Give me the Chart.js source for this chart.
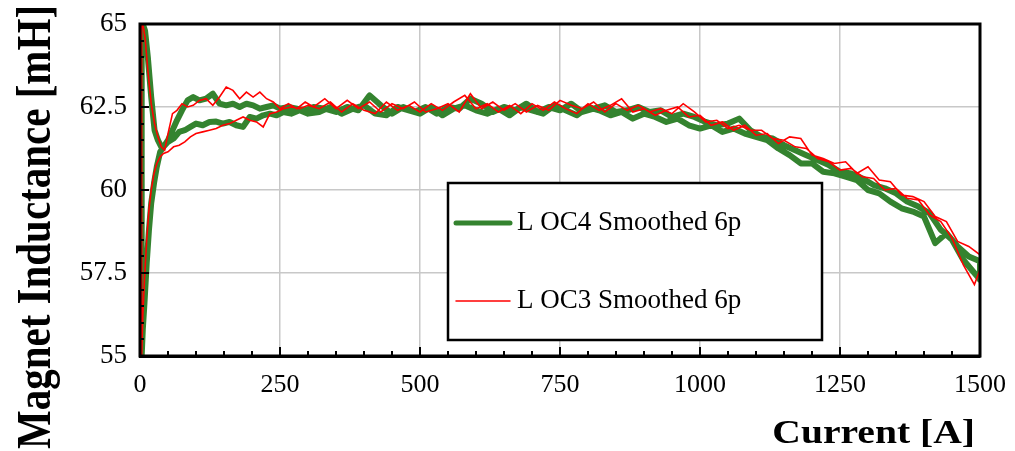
<!DOCTYPE html>
<html>
<head>
<meta charset="utf-8">
<script src="https://cdn.jsdelivr.net/npm/chart.js@4"></script>
<style>
  html, body { margin: 0; padding: 0; background: #fff; }
  canvas { display: block; }
</style>
</head>
<body>
<canvas id="lChart" width="1015" height="451"></canvas>
<script>
/* ─────────────────────────────────────────────
   Data
───────────────────────────────────────────── */
const xTicks = [0, 250, 500, 750, 1000, 1250, 1500];
const yTicks = [55, 57.5, 60, 62.5, 65];

// current samples, rising sweep then falling sweep
const currentUp = [2, 3, 5, 8, 12, 16, 20, 25, 30, 36, 42, 50, 60, 70, 80, 90, 100,
  112, 124, 136, 148, 160, 172, 184, 196, 208, 220, 232, 244, 256, 270, 285, 300,
  320, 340, 360, 380, 400, 420, 440, 460, 480, 500, 520, 540, 560, 580, 600, 620,
  640, 660, 680, 700, 720, 740, 760, 780, 800, 820, 840, 860, 880, 900, 920, 940,
  960, 980, 1000, 1020, 1040, 1060, 1080, 1100, 1120, 1140, 1160, 1180, 1200, 1220,
  1240, 1260, 1280, 1300, 1320, 1340, 1360, 1380, 1400, 1420, 1440, 1460, 1480, 1500];

const currentDown = [1500, 1490, 1470, 1450, 1430, 1410, 1390, 1370, 1350, 1330, 1310,
  1290, 1270, 1250, 1230, 1210, 1190, 1170, 1150, 1130, 1110, 1090, 1070, 1050, 1030,
  1010, 990, 970, 950, 930, 910, 890, 870, 850, 830, 810, 790, 770, 750, 730, 710,
  690, 670, 650, 630, 610, 590, 570, 550, 530, 510, 490, 470, 450, 430, 410, 390,
  370, 350, 330, 310, 295, 280, 265, 250, 238, 226, 214, 202, 190, 178, 166, 154,
  142, 130, 118, 106, 95, 85, 75, 66, 58, 50, 44, 38, 32, 26, 20, 14, 9, 5, 3];

// L OC4 Smoothed 6p [mH]
const oc4Up = [65, 55, 55.8, 56.6, 57.8, 58.8, 59.6, 60.2, 60.7, 61.15, 61.3, 61.45, 61.55,
  61.75, 61.8, 61.9, 62.0, 61.95, 62.05, 62.06, 62.0, 62.05, 61.95, 61.9, 62.2, 62.15,
  62.25, 62.3, 62.25, 62.35, 62.3, 62.4, 62.3,
  62.35, 62.5, 62.3, 62.45, 62.55, 62.3, 62.25, 62.5, 62.4, 62.3, 62.5, 62.25, 62.45,
  62.55, 62.4, 62.3, 62.45, 62.25, 62.5, 62.4, 62.3, 62.55, 62.4, 62.25, 62.5, 62.4,
  62.25, 62.35, 62.15, 62.3, 62.2, 62.05, 62.15, 61.95, 61.85, 61.95, 61.75, 61.85, 61.7,
  61.6, 61.5, 61.25, 61.05, 60.8, 60.8, 60.55, 60.5, 60.4, 60.3, 60.0, 59.9, 59.65,
  59.45, 59.35, 59.2, 58.4, 58.7, 58.3, 58.0, 57.85];

const oc4Down = [57.3, 57.5, 57.9, 58.5, 58.8, 59.3, 59.5, 59.65, 59.9, 60.05, 60.15,
  60.35, 60.5, 60.55, 60.75, 60.9, 61.05, 61.2, 61.35, 61.55, 61.6, 61.8, 62.15, 62.0,
  61.95, 62.05, 62.2, 62.3, 62.2, 62.4, 62.35, 62.5, 62.4, 62.35, 62.55, 62.45, 62.35,
  62.6, 62.4, 62.5, 62.35, 62.6, 62.4, 62.5, 62.35, 62.6, 62.75, 62.45, 62.5, 62.3,
  62.5, 62.35, 62.5, 62.3, 62.55, 62.85, 62.4, 62.5, 62.35, 62.45, 62.5,
  62.4, 62.45, 62.5, 62.45, 62.55, 62.5, 62.45, 62.55, 62.6, 62.5, 62.6, 62.55, 62.6,
  62.9, 62.75, 62.7, 62.8, 62.7, 62.4, 62.1, 61.8, 61.5, 61.35, 61.3, 61.5, 61.8,
  62.8, 64.0, 64.8, 65, 65];

// L OC3 Smoothed 6p [mH]
const oc3Up = [65, 55, 56.2, 57.3, 58.5, 59.4, 60.0, 60.5, 60.8, 61.0, 61.1, 61.15, 61.3,
  61.35, 61.45, 61.6, 61.7, 61.75, 61.8, 61.85, 61.95, 62.0, 62.1, 62.2, 62.1, 62.05,
  61.9, 62.3, 62.35, 62.45, 62.5, 62.45, 62.55,
  62.45, 62.65, 62.35, 62.6, 62.4, 62.3, 62.65, 62.4, 62.55, 62.35,
  62.6, 62.4, 62.65, 62.85, 62.45, 62.6, 62.35, 62.55, 62.3, 62.6,
  62.4, 62.65, 62.45, 62.3, 62.6, 62.4, 62.55, 62.75, 62.35, 62.45,
  62.25, 62.4, 62.5, 62.2, 62.25, 61.95, 62.05, 61.8, 61.95, 61.65,
  61.7, 61.4, 61.6, 61.55, 61.05, 60.95, 60.8, 60.85, 60.5, 60.7,
  60.3, 60.25, 59.85, 59.8, 59.65, 59.2, 59.05, 58.45, 58.3, 58.05];

const oc3Down = [57.6, 57.15, 57.75, 58.55, 59.05, 59.25, 59.7, 59.75, 60.05, 60.0, 60.35,
  60.4, 60.65, 60.6, 60.85, 60.95, 61.25, 61.3, 61.5, 61.55, 61.8,
  61.8, 61.95, 61.85, 62.1, 62.05, 62.35, 62.6, 62.3, 62.45, 62.35,
  62.55, 62.4, 62.6, 62.35, 62.65, 62.45, 62.55, 62.7, 62.4, 62.55,
  62.35, 62.6, 62.4, 62.65, 62.45, 62.9, 62.35, 62.6, 62.45, 62.35,
  62.65, 62.45, 62.6, 62.35, 62.65, 62.45, 62.7, 62.45, 62.75, 62.5,
  62.65, 62.45, 62.6, 62.45, 62.65, 62.75, 62.95, 62.8, 62.95, 62.75, 63.0, 63.1, 62.8,
  62.55, 62.75, 62.7, 62.55, 62.5, 62.6, 62.4, 62.3, 61.7, 61.2, 61.3, 61.6, 62.0,
  62.6, 63.6, 64.6, 65, 65];

const seriesLabels = ['L OC4 Smoothed 6p', 'L OC3 Smoothed 6p'];

/* ─────────────────────────────────────────────
   Helpers
───────────────────────────────────────────── */
const serif = '"Liberation Serif", "Times New Roman", serif';
const green = '#34832f';
const red = '#ff0000';

function loop(up, down) {
  return currentUp.map((c, i) => ({ x: c, y: up[i] }))
    .concat(currentDown.map((c, i) => ({ x: c, y: down[i] })));
}

/* ─────────────────────────────────────────────
   Plugins: frame, inner ticks, legend box, titles
───────────────────────────────────────────── */
const framePlugin = {
  id: 'frame',
  afterDraw(chart) {
    const { ctx, chartArea: a, scales: { x, y } } = chart;
    ctx.save();
    ctx.strokeStyle = '#000';
    ctx.lineWidth = 3;
    ctx.strokeRect(a.left, a.top, a.right - a.left, a.bottom - a.top);

    ctx.lineWidth = 2;
    for (let v = 0; v <= 1500; v += 50) {
      const px = Math.round(x.getPixelForValue(v));
      const len = v % 250 === 0 ? 9 : 5;
      ctx.beginPath();
      ctx.moveTo(px, a.bottom);
      ctx.lineTo(px, a.bottom - len);
      ctx.stroke();
    }
    for (let v = 55; v <= 65; v += 0.5) {
      const py = Math.round(y.getPixelForValue(v));
      const len = (v * 2) % 5 === 0 ? 9 : 4;
      ctx.beginPath();
      ctx.moveTo(a.left, py);
      ctx.lineTo(a.left + len, py);
      ctx.stroke();
    }
    ctx.restore();
  }
};

const legendPlugin = {
  id: 'boxLegend',
  afterDatasetsDraw(chart) {
    const { ctx, chartArea: a } = chart;
    const left = a.left + 308, top = a.top + 159, w = 374, h = 157;
    ctx.save();
    ctx.fillStyle = '#fff';
    ctx.fillRect(left, top, w, h);
    ctx.strokeStyle = '#000';
    ctx.lineWidth = 2.5;
    ctx.strokeRect(left, top, w, h);

    const rows = [top + 40, top + 118];
    chart.data.datasets.forEach((ds, i) => {
      const yy = rows[i];
      ctx.strokeStyle = ds.borderColor;
      ctx.lineWidth = ds.borderWidth === 6 ? 5 : 1.5;
      ctx.lineCap = 'round';
      ctx.beginPath();
      ctx.moveTo(left + 8, yy);
      ctx.lineTo(left + 62, yy);
      ctx.stroke();
      ctx.fillStyle = '#000';
      ctx.font = '27px ' + serif;
      ctx.textBaseline = 'middle';
      ctx.textAlign = 'left';
      ctx.fillText(ds.label, left + 69, yy);
    });
    ctx.restore();
  }
};

const titlePlugin = {
  id: 'axisTitles',
  afterDraw(chart) {
    const { ctx } = chart;
    ctx.save();
    ctx.fillStyle = '#000';
    ctx.font = 'bold 41px ' + serif;
    ctx.textBaseline = 'alphabetic';
    ctx.textAlign = 'center';
    ctx.translate(50, 227);
    ctx.rotate(-Math.PI / 2);
    ctx.scale(1.0, 1.18);
    ctx.fillText('Magnet Inductance [mH]', 0, 0);
    ctx.restore();

    ctx.save();
    ctx.fillStyle = '#000';
    ctx.font = 'bold 33px ' + serif;
    ctx.textBaseline = 'alphabetic';
    ctx.textAlign = 'right';
    ctx.translate(975, 443);
    ctx.scale(1.2, 1);
    ctx.fillText('Current [A]', 0, 0);
    ctx.restore();
  }
};

/* ─────────────────────────────────────────────
   Chart
───────────────────────────────────────────── */
new Chart(document.getElementById('lChart'), {
  type: 'scatter',
  data: {
    datasets: [
      {
        label: seriesLabels[0],
        data: loop(oc4Up, oc4Down),
        showLine: true,
        borderColor: green,
        backgroundColor: green,
        borderWidth: 6,
        borderJoinStyle: 'round',
        borderCapStyle: 'round',
        pointRadius: 0,
        order: 1,
      },
      {
        label: seriesLabels[1],
        data: loop(oc3Up, oc3Down),
        showLine: true,
        borderColor: red,
        backgroundColor: red,
        borderWidth: 1.6,
        pointRadius: 0,
        order: 0,
      }
    ]
  },
  options: {
    responsive: false,
    animation: false,
    devicePixelRatio: 1,
    layout: { padding: { top: 24, right: 35, bottom: 0, left: 0 } },
    plugins: {
      legend: { display: false },
      tooltip: { enabled: false }
    },
    scales: {
      x: {
        type: 'linear',
        min: 0,
        max: 1500,
        afterBuildTicks: (s) => { s.ticks = xTicks.map(v => ({ value: v })); },
        afterFit: (s) => { s.height = 95; s.paddingLeft = 0; s.paddingRight = 0; },
        grid: { color: '#c8c8c8', lineWidth: 1.5, drawTicks: false },
        border: { color: '#000', width: 3 },
        ticks: {
          color: '#000', padding: 14, maxRotation: 0,
          font: { family: serif, size: 26 },
          callback: (v) => String(v)
        }
      },
      y: {
        type: 'linear',
        min: 55,
        max: 65,
        afterBuildTicks: (s) => { s.ticks = yTicks.map(v => ({ value: v })); },
        afterFit: (s) => { s.width = 140; s.paddingTop = 0; s.paddingBottom = 0; },
        grid: { color: '#c8c8c8', lineWidth: 1.5, drawTicks: false },
        border: { color: '#000', width: 3 },
        ticks: {
          color: '#000', padding: 13,
          font: { family: serif, size: 27 },
          callback: (v) => String(v)
        }
      }
    }
  },
  plugins: [legendPlugin, framePlugin, titlePlugin]
});
</script>
</body>
</html>
